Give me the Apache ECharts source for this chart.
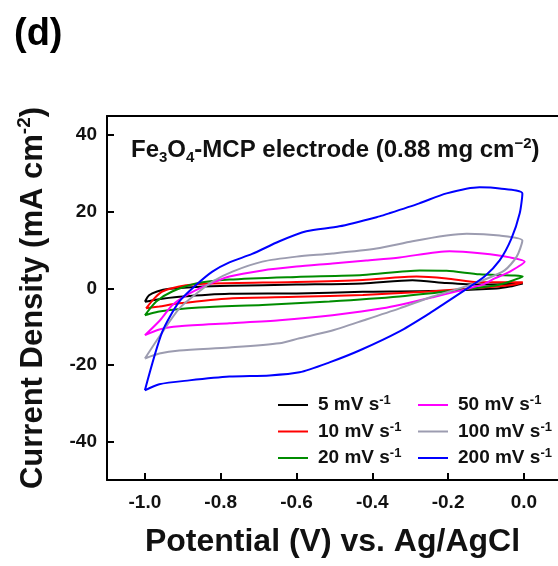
<!DOCTYPE html>
<html>
<head>
<meta charset="utf-8">
<script src="https://cdn.jsdelivr.net/npm/echarts@6/dist/echarts.min.js"></script>
<style>html,body{margin:0;padding:0;background:#fff}#c{width:558px;height:566px}</style>
</head>
<body>
<div id="c"></div>
<script>
// Scan-rate series names
const seriesNames = ['5 mV s-1', '10 mV s-1', '20 mV s-1', '50 mV s-1', '100 mV s-1', '200 mV s-1'];
const seriesColors = ['#000000', '#ff0000', '#008c00', '#ff00ff', '#9c9cb0', '#0000ff'];

// Potential (V) / current density (mA cm-2) pairs, forward sweep then reverse sweep
const cv5 = [[-1.0,-3.5],[-0.989,-1.8],[-0.968,-0.8],[-0.936,-0.1],[-0.865,0.4],[-0.777,0.7],[-0.6,1.0],[-0.425,1.3],[-0.294,2.1],[-0.204,1.4],[-0.117,1.0],[-0.003,1.3],
  [-0.037,0.5],[-0.072,0.0],[-0.249,-0.7],[-0.425,-0.9],[-0.6,-1.3],[-0.777,-1.4],[-0.909,-2.2],[-0.975,-3.0],[-1.0,-3.5]];
const cv10 = [[-0.997,-5.2],[-0.975,-2.6],[-0.954,-0.8],[-0.891,0.8],[-0.822,1.3],[-0.6,1.7],[-0.425,2.2],[-0.283,3.1],[-0.204,2.6],[-0.117,1.6],[-0.003,1.6],
  [-0.024,1.0],[-0.072,0.5],[-0.249,-0.8],[-0.425,-1.7],[-0.6,-2.2],[-0.777,-2.6],[-0.909,-3.9],[-0.962,-4.7],[-0.997,-5.2]];
const cv20 = [[-1.0,-7.0],[-0.97,-3.4],[-0.928,-0.8],[-0.865,1.3],[-0.777,2.3],[-0.6,3.0],[-0.425,3.5],[-0.275,4.7],[-0.204,4.6],[-0.117,3.7],[-0.003,3.1],
  [-0.037,1.8],[-0.072,0.8],[-0.157,-0.3],[-0.328,-2.1],[-0.513,-3.4],[-0.69,-4.3],[-0.857,-5.0],[-0.962,-6.0],[-1.0,-7.0]];
const cv50 = [[-1.0,-12.2],[-0.96,-8.3],[-0.928,-4.4],[-0.891,-1.8],[-0.838,0.8],[-0.777,3.1],[-0.69,4.7],[-0.6,5.7],[-0.505,6.5],[-0.416,7.3],[-0.328,8.1],[-0.196,9.7],[-0.109,9.1],[-0.037,8.1],[0.002,7.0],
  [-0.037,4.4],[-0.077,2.6],[-0.109,1.0],[-0.241,-2.3],[-0.373,-5.2],[-0.505,-7.0],[-0.645,-8.3],[-0.777,-9.1],[-0.909,-9.9],[-0.962,-10.7],[-1.0,-12.2]];
const cv100 = [[-1.0,-18.3],[-0.96,-12.3],[-0.909,-5.2],[-0.857,-0.8],[-0.822,1.8],[-0.769,4.4],[-0.69,7.0],[-0.6,8.3],[-0.505,9.1],[-0.389,10.4],[-0.294,12.3],[-0.204,13.8],[-0.151,14.3],[-0.064,13.8],[-0.004,12.5],
  [-0.019,8.3],[-0.051,4.7],[-0.109,2.1],[-0.17,0.0],[-0.241,-2.1],[-0.328,-5.2],[-0.416,-8.1],[-0.513,-11.2],[-0.592,-13.0],[-0.645,-14.3],[-0.777,-15.4],[-0.909,-16.2],[-0.962,-17.0],[-1.0,-18.3]];
const cv200 = [[-1.0,-26.6],[-0.954,-11.3],[-0.909,-3.4],[-0.865,0.9],[-0.822,4.4],[-0.777,6.8],[-0.717,9.0],[-0.645,12.3],[-0.574,14.9],[-0.487,16.2],[-0.381,18.8],[-0.355,19.6],[-0.276,22.2],[-0.204,24.8],[-0.117,26.4],[-0.064,26.1],[-0.004,24.8],
  [-0.011,19.6],[-0.033,13.0],[-0.064,7.3],[-0.104,3.1],[-0.157,-0.5],[-0.209,-3.9],[-0.249,-6.5],[-0.328,-11.2],[-0.434,-16.2],[-0.513,-19.3],[-0.592,-21.9],[-0.671,-22.7],[-0.777,-23.0],[-0.883,-24.0],[-0.962,-25.0],[-1.0,-26.6]];
const seriesData = [cv5, cv10, cv20, cv50, cv100, cv200];

// Axis ticks
const xTicks = [-1.0, -0.8, -0.6, -0.4, -0.2, 0.0];
const yTicks = [-40, -20, 0, 20, 40];

const FONT = 'Liberation Sans, Arial, sans-serif';
const chart = echarts.init(document.getElementById('c'), null, {renderer: 'canvas'});

const legendFmt = name => {
  const base = name.replace(/-1$/, '');
  return '{n|' + base + '}{s|-1}';
};
const legendRich = {
  n: {fontFamily: FONT, fontWeight: 'bold', fontSize: 19, color: '#111', lineHeight: 22},
  s: {fontFamily: FONT, fontWeight: 'bold', fontSize: 13, color: '#111', verticalAlign: 'top', lineHeight: 14}
};

const option = {
  backgroundColor: '#fff',
  animation: false,
  title: [
    {text: '(d)', left: 9, top: 11, textStyle: {fontFamily: FONT, fontWeight: 'bold', fontSize: 38, color: '#000'}},
    {text: '{m|Fe}{b|3}{m|O}{b|4}{m|-MCP electrode (0.88 mg cm}{s|−2}{m|)}', left: 126, top: 131,
     textStyle: {rich: {
       m: {fontFamily: FONT, fontWeight: 'bold', fontSize: 24, color: '#111', lineHeight: 29},
       b: {fontFamily: FONT, fontWeight: 'bold', fontSize: 15, color: '#111', verticalAlign: 'bottom', lineHeight: 16, padding: [9, 0, 0, 0]},
       s: {fontFamily: FONT, fontWeight: 'bold', fontSize: 15, color: '#111', verticalAlign: 'top', lineHeight: 16, padding: [0, 0, 7, 0]}
     }}}
  ],
  legend: [
    {data: seriesNames.slice(0, 3), orient: 'vertical', left: 273, top: 389, itemWidth: 30, itemHeight: 2, itemGap: 6, icon: 'rect',
     formatter: legendFmt, textStyle: {rich: legendRich, padding: [0, 0, 0, 5]}},
    {data: seriesNames.slice(3), orient: 'vertical', left: 413, top: 389, itemWidth: 30, itemHeight: 2, itemGap: 6, icon: 'rect',
     formatter: legendFmt, textStyle: {rich: legendRich, padding: [0, 0, 0, 5]}}
  ],
  grid: {left: 107, right: 0, top: 116, bottom: 86, containLabel: false},
  xAxis: [
    {type: 'value', min: -1.1, max: 0.09, position: 'bottom',
     name: 'Potential (V) vs. Ag/AgCl', nameLocation: 'middle', nameGap: 46,
     nameTextStyle: {fontFamily: FONT, fontWeight: 'bold', fontSize: 32, color: '#111'},
     axisLine: {show: true, onZero: false, lineStyle: {color: '#000', width: 2}},
     axisTick: {show: true, inside: true, length: 7, lineStyle: {width: 2, color: '#000'}, customValues: xTicks},
     axisLabel: {customValues: xTicks, margin: 13, fontFamily: FONT, fontWeight: 'bold', fontSize: 19, color: '#111',
       formatter: v => (Math.abs(v) < 1e-9 ? 0 : v).toFixed(1)},
     splitLine: {show: false}},
    {type: 'value', min: -1.1, max: 0.09, position: 'top',
     axisLine: {show: true, onZero: false, lineStyle: {color: '#000', width: 2}},
     axisTick: {show: false}, axisLabel: {show: false}, splitLine: {show: false}}
  ],
  yAxis: {
    type: 'value', min: -50, max: 45,
    name: '{m|Current Density (mA cm}{s|-2}{m|)}', nameLocation: 'middle', nameGap: 55, nameRotate: 90,
    nameTextStyle: {rich: {
      m: {fontFamily: FONT, fontWeight: 'bold', fontSize: 31, color: '#111', lineHeight: 37},
      s: {fontFamily: FONT, fontWeight: 'bold', fontSize: 19, color: '#111', verticalAlign: 'top', lineHeight: 22}
    }},
    axisLine: {show: true, onZero: false, lineStyle: {color: '#000', width: 2}},
    axisTick: {show: true, inside: true, length: 7, lineStyle: {width: 2, color: '#000'}, customValues: yTicks},
    axisLabel: {customValues: yTicks, margin: 10, fontFamily: FONT, fontWeight: 'bold', fontSize: 19, color: '#111'},
    splitLine: {show: false}
  },
  series: seriesNames.map((n, i) => ({
    name: n, type: 'line', data: seriesData[i], showSymbol: false, smooth: 0.25,
    xAxisIndex: 0, yAxisIndex: 0,
    lineStyle: {color: seriesColors[i], width: 2}, itemStyle: {color: seriesColors[i]},
    z: 2 + i
  }))
};
chart.setOption(option);
</script>
</body>
</html>
